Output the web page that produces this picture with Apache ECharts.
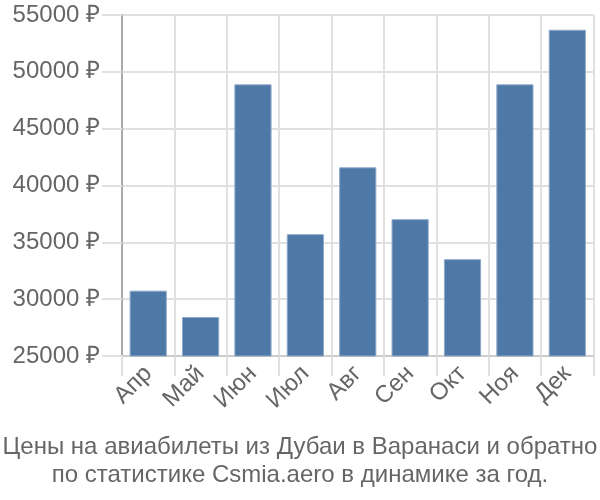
<!DOCTYPE html>
<html>
<head>
<meta charset="utf-8">
<script src="https://cdn.jsdelivr.net/npm/echarts@6/dist/echarts.min.js"></script>
<style>html,body{margin:0;padding:0;background:#fff}#c{width:600px;height:500px}</style>
</head>
<body>
<div id="c"></div>
<script>
const categories = ['Апр','Май','Июн','Июл','Авг','Сен','Окт','Ноя','Дек'];
const prices = [30750, 28430, 48900, 35720, 41600, 37040, 33520, 48900, 53700];
const yMin = 25000, yMax = 55000, yStep = 5000;
const titleLines = ['Цены на авиабилеты из Дубаи в Варанаси и обратно', 'по статистике Csmia.aero в динамике за год.'];

const chart = echarts.init(document.getElementById('c'), null, {renderer: 'canvas'});
chart.setOption({
  animation: false,
  textStyle: {fontFamily: 'Liberation Sans, Arial, sans-serif'},
  title: {
    text: titleLines.join('\n'),
    left: 'center',
    top: 428,
    textStyle: {fontSize: 24, fontWeight: 'normal', color: '#666', lineHeight: 28, fontFamily: 'Liberation Sans, Arial, sans-serif'}
  },
  grid: {left: 122, right: 6.5, top: 15, bottom: 144},
  xAxis: {
    type: 'category',
    data: categories,
    axisLine: {lineStyle: {color: '#ccc', width: 2}},
    axisTick: {show: true, length: 20, lineStyle: {color: '#e0e0e0', width: 2}},
    splitLine: {show: true, lineStyle: {color: '#e0e0e0', width: 2}},
    axisLabel: {rotate: 45, fontSize: 24, color: '#666', margin: 14, interval: 0}
  },
  yAxis: {
    type: 'value',
    min: yMin, max: yMax, interval: yStep,
    axisLine: {show: true, lineStyle: {color: '#aaa', width: 2}},
    axisTick: {show: true, length: 20, lineStyle: {color: '#e0e0e0', width: 2}},
    splitLine: {show: true, lineStyle: {color: '#e0e0e0', width: 2}},
    axisLabel: {fontSize: 24, color: '#666', margin: 22, formatter: v => v + ' ₽'}
  },
  series: [{
    type: 'bar',
    data: prices,
    barCategoryGap: '29%',
    itemStyle: {color: '#4e79a7', borderColor: '#8fa9c9', borderWidth: 1}
  }]
});
</script>
</body>
</html>
